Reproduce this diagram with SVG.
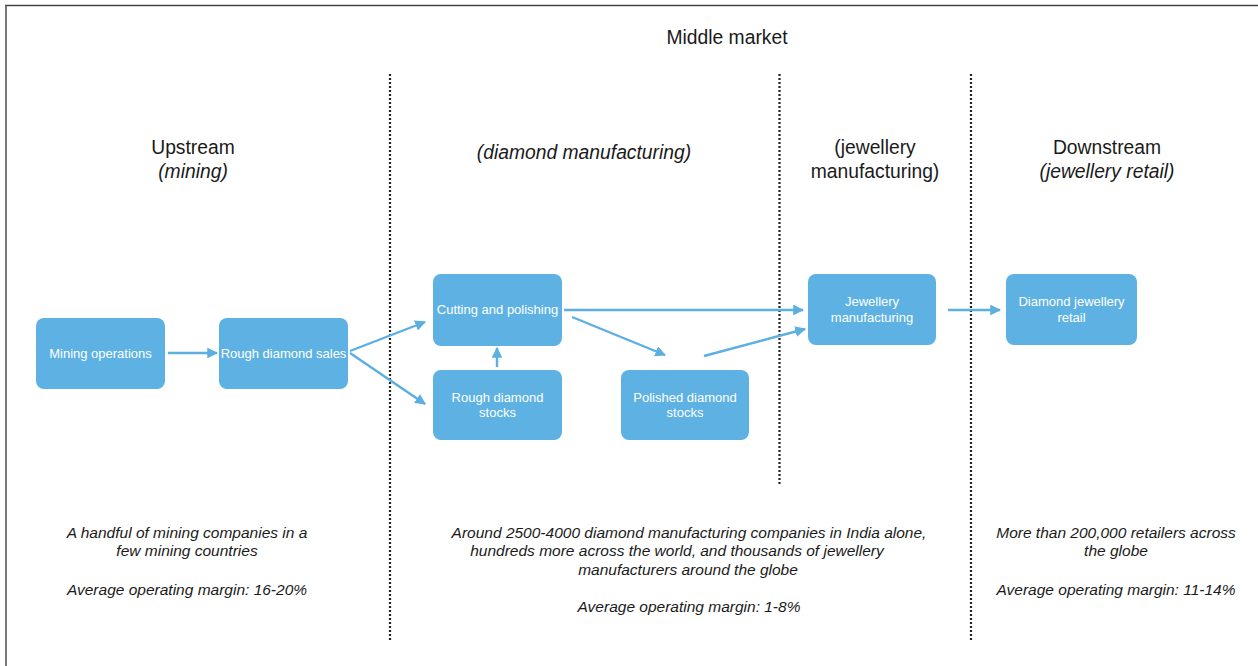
<svg xmlns="http://www.w3.org/2000/svg" width="1258" height="666" viewBox="0 0 1258 666">
<defs>
<marker id="ah" viewBox="0 0 10 10" refX="9" refY="5" markerWidth="4.5" markerHeight="4.5" markerUnits="strokeWidth" orient="auto">
<path d="M0,0 L10,5 L0,10 Z" fill="#5BAFE1"/>
</marker>
<style>
.node rect{fill:#5EB2E3;}
.node text{fill:#ffffff;font-family:"Liberation Sans",Arial,sans-serif;font-size:13px;text-anchor:middle;}
.hd{fill:#1a1a1a;font-family:"Liberation Sans",Arial,sans-serif;font-size:19.3px;text-anchor:middle;}
.it{font-style:italic;}
.ft{fill:#1a1a1a;font-family:"Liberation Sans",Arial,sans-serif;font-size:15.5px;font-style:italic;text-anchor:middle;}
.div{stroke:#222;stroke-width:2.2;stroke-dasharray:2 2;fill:none;}
.conn path{stroke:#5BAFE1;stroke-width:2.4;fill:none;marker-end:url(#ah);}
</style>
</defs>
<rect width="1258" height="666" fill="#ffffff"/>
<g id="frame">
<line x1="5" y1="5.5" x2="1258" y2="5.5" stroke="#444" stroke-width="1.6"/>
<line x1="6" y1="5" x2="6" y2="666" stroke="#555" stroke-width="1.6"/>
</g>
<g id="dividers">
<line class="div" x1="390" y1="74" x2="390" y2="640"/>
<line class="div" x1="779.5" y1="74" x2="779.5" y2="486"/>
<line class="div" x1="971" y1="74" x2="971" y2="640"/>
</g>
<g id="headings">
<text class="hd" x="727" y="44">Middle market</text>
<text class="hd" x="193" y="154">Upstream</text>
<text class="hd it" x="193" y="178">(mining)</text>
<text class="hd it" x="584" y="159">(diamond manufacturing)</text>
<text class="hd" x="875" y="154">(jewellery</text>
<text class="hd" x="875" y="178">manufacturing)</text>
<text class="hd" x="1107" y="154">Downstream</text>
<text class="hd it" x="1107" y="178">(jewellery retail)</text>
</g>
<g id="n-mining" class="node"><rect x="36" y="318" width="129" height="71" rx="8"/><text x="100.5" y="358">Mining operations</text></g>
<g id="n-roughsales" class="node"><rect x="219" y="318" width="129" height="71" rx="8"/><text x="283.5" y="358">Rough diamond sales</text></g>
<g id="n-cutting" class="node"><rect x="433" y="274" width="129" height="72" rx="8"/><text x="497.5" y="314">Cutting and polishing</text></g>
<g id="n-roughstocks" class="node"><rect x="433" y="370" width="129" height="70" rx="8"/><text x="497.5" y="402">Rough diamond</text><text x="497.5" y="417">stocks</text></g>
<g id="n-polished" class="node"><rect x="621" y="370" width="128" height="70" rx="8"/><text x="685" y="402">Polished diamond</text><text x="685" y="417">stocks</text></g>
<g id="n-jewmanu" class="node"><rect x="808" y="274" width="128" height="71" rx="8"/><text x="872" y="306">Jewellery</text><text x="872" y="322">manufacturing</text></g>
<g id="n-retail" class="node"><rect x="1006" y="274" width="131" height="71" rx="8"/><text x="1071.5" y="306">Diamond jewellery</text><text x="1071.5" y="322">retail</text></g>
<g id="connectors" class="conn">
<path d="M168,353 L217,353"/>
<path d="M350,351 L425,322"/>
<path d="M350,353 L425,404"/>
<path d="M497,367 L497,348"/>
<path d="M564,310 L803,310"/>
<path d="M572,317 L665,355"/>
<path d="M704,356 L805,329"/>
<path d="M948,310 L1000,310"/>
</g>
<g id="footnotes">
<text class="ft" x="187" y="538">A handful of mining companies in a</text>
<text class="ft" x="187" y="556">few mining countries</text>
<text class="ft" x="187" y="595">Average operating margin: 16-20%</text>
<text class="ft" x="689" y="538">Around 2500-4000 diamond manufacturing companies in India alone,</text>
<text class="ft" x="677" y="556">hundreds more across the world, and thousands of jewellery</text>
<text class="ft" x="688" y="575">manufacturers around the globe</text>
<text class="ft" x="689" y="612">Average operating margin: 1-8%</text>
<text class="ft" x="1116" y="538">More than 200,000 retailers across</text>
<text class="ft" x="1116" y="556">the globe</text>
<text class="ft" x="1116" y="595">Average operating margin: 11-14%</text>
</g>
</svg>
